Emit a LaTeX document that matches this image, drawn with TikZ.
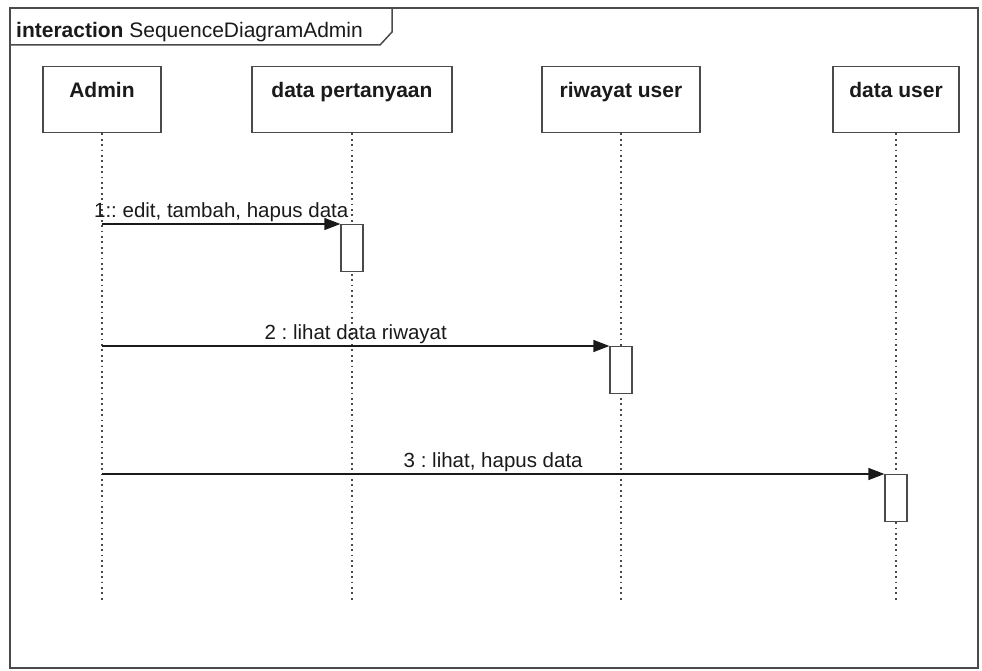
\documentclass[tikz,border=0pt]{standalone}
\usepackage{fontspec}
\setmainfont{Liberation Sans}
\usepackage{xcolor}
\usetikzlibrary{positioning, arrows.meta}
\definecolor{umlgray}{HTML}{4A4A4A}
\definecolor{umltext}{HTML}{1A1A1A}
\frenchspacing

\begin{document}
\begin{tikzpicture}[x=1pt, y=-1pt,
    objbox/.style={draw=umlgray, line width=1.4pt, anchor=north, inner xsep=0pt, inner ysep=0pt,
                   text height=31pt, text depth=35pt, text=umltext,
                   font=\fontsize{21}{24}\selectfont\bfseries},
    actbox/.style={draw=umlgray, line width=1.2pt, fill=white, anchor=north,
                   minimum width=22pt, minimum height=47pt, inner sep=0pt},
    lifeline/.style={umlgray, line width=1.4pt, dash pattern=on 1.8pt off 3.6pt},
    msg/.style={umltext, line width=1.3pt, -{Triangle[length=16pt, width=12pt]}},
    msglabel/.style={above, inner sep=2pt, text=umltext, font=\fontsize{20.5}{24}\selectfont}]
  \useasboundingbox (0,0) rectangle (982,671);

  % frame with title tab
  \draw[umlgray, line width=1.8pt] (10,8) rectangle (978,668);
  \draw[umlgray, line width=1.5pt] (10,45) -- (380,45) -- (392,32) -- (392,8);
  \node[anchor=base west, inner sep=0pt, text=umltext, font=\fontsize{21}{24}\selectfont]
    (title) at (16,38) {\textbf{interaction} SequenceDiagramAdmin};

  % objects
  \node[objbox, minimum width=118pt] (admin)      at (102,66) {Admin};
  \node[objbox, minimum width=200pt] (pertanyaan) at (352,66) {data pertanyaan};
  \node[objbox, minimum width=158pt] (riwayat)    at (621,66) {riwayat user};
  \node[objbox, minimum width=126pt] (datauser)   at (896,66) {data user};

  % lifelines
  \foreach \obj in {admin, pertanyaan, riwayat, datauser} {
    \coordinate (\obj-end) at (\obj.south |- 0,602);
    \draw[lifeline] (\obj.south) -- (\obj-end);
  }

  % activations
  \node[actbox] (act1) at (pertanyaan.south |- 0,224) {};
  \node[actbox] (act2) at (riwayat.south |- 0,346) {};
  \node[actbox] (act3) at (datauser.south |- 0,474) {};

  % messages
  \coordinate (m1) at (admin.south |- act1.north);
  \coordinate (m2) at (admin.south |- act2.north);
  \coordinate (m3) at (admin.south |- act3.north);
  \draw[msg] (m1) -- node[msglabel] {1:: edit, tambah, hapus data} (act1.north west);
  \draw[msg] (m2) -- node[msglabel] {2 : lihat data riwayat} (act2.north west);
  \draw[msg] (m3) -- node[msglabel] {3 : lihat, hapus data} (act3.north west);
\end{tikzpicture}
\end{document}
